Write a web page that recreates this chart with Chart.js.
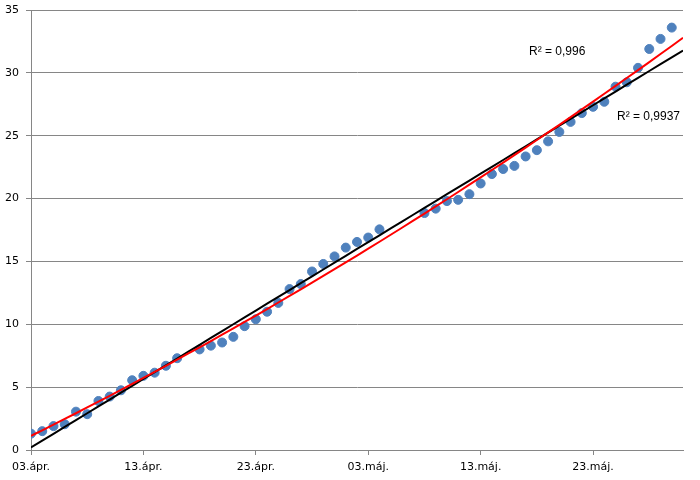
<!DOCTYPE html>
<html>
<head>
<meta charset="utf-8">
<script src="https://cdn.jsdelivr.net/npm/chart.js@4.4.0/dist/chart.umd.min.js"></script>
<style>
    html, body { margin: 0; padding: 0; background: #ffffff; }
    #wrap { width: 700px; height: 480px; }
</style>
</head>
<body>
<div id="wrap"><canvas id="chart" width="700" height="480"></canvas></div>
<script>
// days counted from 03.ápr.
const days = [0, 1, 2, 3, 4, 5, 6, 7, 8, 9, 10, 11, 12, 13,
    15, 16, 17, 18, 19, 20, 21, 22, 23, 24, 25, 26, 27, 28, 29, 30, 31,
    35, 36, 37, 38, 39, 40, 41, 42, 43, 44, 45, 46, 47, 48, 49, 50, 51, 52, 53, 54, 55, 56, 57];
const values = [1.3, 1.5, 1.9, 2.05, 3.05, 2.85, 3.9, 4.25, 4.75, 5.55, 5.9, 6.15, 6.7, 7.3,
    8.0, 8.3, 8.55, 9.0, 9.85, 10.4, 11.0, 11.7, 12.8, 13.2, 14.2, 14.8, 15.4, 16.1, 16.55, 16.9, 17.55,
    18.85, 19.2, 19.8, 19.9, 20.35, 21.2, 21.95, 22.35, 22.6, 23.35, 23.85, 24.55, 25.3, 26.1, 26.8, 27.3, 27.7, 28.9, 29.25, 30.4, 31.9, 32.7, 33.6];
const tickDays = [0, 10, 20, 30, 40, 50];
const tickLabels = ['03.ápr.', '13.ápr.', '23.ápr.', '03.máj.', '13.máj.', '23.máj.'];
const lastDay = 58;
const r2Linear = 'R² = 0,9937';
const r2Poly = 'R² = 0,996';

// least squares fits (linear and 2nd order polynomial)
function fitPoly(xs, ys, order) {
    const n = order + 1;
    const m = [];
    for (let i = 0; i < n; i++) {
        m.push(new Array(n + 1).fill(0));
    }
    xs.forEach((x, k) => {
        for (let i = 0; i < n; i++) {
            for (let j = 0; j < n; j++) {
                m[i][j] += Math.pow(x, i + j);
            }
            m[i][n] += ys[k] * Math.pow(x, i);
        }
    });
    // gauss elimination
    for (let i = 0; i < n; i++) {
        for (let r = i + 1; r < n; r++) {
            const f = m[r][i] / m[i][i];
            for (let c = i; c <= n; c++) m[r][c] -= f * m[i][c];
        }
    }
    const coef = new Array(n).fill(0);
    for (let i = n - 1; i >= 0; i--) {
        let s = m[i][n];
        for (let j = i + 1; j < n; j++) s -= m[i][j] * coef[j];
        coef[i] = s / m[i][i];
    }
    return coef;
}

function trendPoints(coef) {
    const pts = [];
    for (let d = 0; d <= lastDay; d++) {
        let y = 0;
        coef.forEach((c, i) => { y += c * Math.pow(d, i); });
        pts.push({ x: d, y: y });
    }
    return pts;
}

const linCoef = fitPoly(days, values, 1);
const polyCoef = fitPoly(days, values, 2);

const r2Labels = {
    id: 'r2Labels',
    afterDatasetsDraw(chart) {
        const ctx = chart.ctx;
        ctx.save();
        ctx.fillStyle = '#000000';
        ctx.font = '12px "Liberation Sans", Arial, sans-serif';
        ctx.textBaseline = 'middle';
        ctx.fillText(r2Poly, 529, 52);
        ctx.fillText(r2Linear, 617, 117);
        ctx.restore();
    }
};

const ctx = document.getElementById('chart').getContext('2d');

new Chart(ctx, {
    type: 'scatter',
    data: {
        datasets: [{
            label: 'data',
            data: days.map((d, i) => ({ x: d, y: values[i] })),
            backgroundColor: '#4F81BD',
            borderColor: '#4F81BD',
            pointRadius: 4.5,
            pointHoverRadius: 4.5,
            order: 3
        }, {
            label: 'linear',
            type: 'line',
            data: trendPoints(linCoef),
            borderColor: '#000000',
            borderWidth: 2,
            pointRadius: 0,
            fill: false,
            order: 2
        }, {
            label: 'poly',
            type: 'line',
            data: trendPoints(polyCoef),
            borderColor: '#FF0000',
            borderWidth: 2,
            pointRadius: 0,
            fill: false,
            cubicInterpolationMode: 'monotone',
            order: 1
        }]
    },
    options: {
        responsive: false,
        animation: false,
        layout: {
            padding: { top: 10, right: 17, left: 0, bottom: 0 }
        },
        plugins: {
            legend: { display: false },
            tooltip: { enabled: false }
        },
        scales: {
            x: {
                type: 'linear',
                min: 0,
                max: lastDay,
                afterBuildTicks: function(axis) {
                    axis.ticks = tickDays.map(v => ({ value: v }));
                },
                afterFit: function(axis) {
                    axis.height = 30;
                },
                ticks: {
                    autoSkip: false,
                    maxRotation: 0,
                    padding: 6,
                    color: '#000000',
                    font: { family: '"DejaVu Sans", Verdana, sans-serif', size: 11 },
                    callback: function(value) {
                        const i = tickDays.indexOf(value);
                        return i >= 0 ? tickLabels[i] : '';
                    }
                },
                grid: {
                    drawOnChartArea: false,
                    drawTicks: true,
                    tickLength: 5,
                    color: '#868686'
                },
                border: { display: true, color: '#868686', width: 1 }
            },
            y: {
                min: 0,
                max: 35,
                afterFit: function(axis) {
                    axis.width = 31;
                    // let layout.padding decide the top of the plot
                    axis.paddingTop = 0;
                    axis.paddingBottom = 0;
                },
                ticks: {
                    stepSize: 5,
                    padding: 7,
                    color: '#000000',
                    font: { family: '"DejaVu Sans", Verdana, sans-serif', size: 11 }
                },
                grid: {
                    color: '#868686',
                    tickLength: 5,
                    lineWidth: 1
                },
                border: { display: true, color: '#868686', width: 1 }
            }
        }
    },
    plugins: [r2Labels]
});
</script>
</body>
</html>
